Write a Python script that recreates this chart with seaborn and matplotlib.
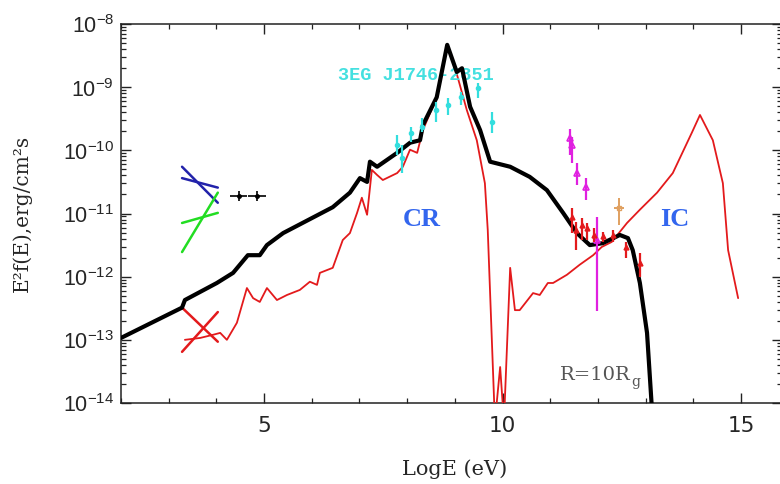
import numpy as np
import pandas as pd
import matplotlib
matplotlib.use("Agg")
import matplotlib.pyplot as plt
import seaborn as sns
from matplotlib.ticker import FixedLocator, LogLocator, NullFormatter, MultipleLocator

# ---------------- data (log10 of E^2 f(E)) ----------------
black_x = [2.00, 3.28, 3.34, 4.01, 4.35, 4.66, 4.91, 5.06, 5.40, 6.44, 6.80, 7.01, 7.16, 7.22,
           7.37, 7.79, 8.06, 8.27, 8.33, 8.62, 8.84, 9.04, 9.15, 9.32, 9.53, 9.74, 10.16,
           10.57, 10.93, 11.27, 11.56, 11.83, 12.10, 12.46, 12.63, 12.73, 12.88, 13.03, 13.15]
black_logf = [-12.97, -12.49, -12.37, -12.10, -11.94, -11.66, -11.66, -11.50, -11.31, -10.90,
              -10.67, -10.44, -10.50, -10.18, -10.26, -10.04, -9.88, -9.84, -9.60, -9.16,
              -8.33, -8.76, -8.70, -9.31, -9.68, -10.18, -10.26, -10.42, -10.63, -10.99,
              -11.31, -11.50, -11.47, -11.34, -11.39, -11.58, -12.10, -12.89, -14.30]

red_x = [3.34, 3.66, 3.93, 4.08, 4.22, 4.43, 4.64, 4.77, 4.91, 5.06, 5.27, 5.48, 5.75, 5.96,
         6.11, 6.17, 6.44, 6.65, 6.80, 6.95, 7.05, 7.16, 7.26, 7.37, 7.49, 7.79, 7.91, 8.06,
         8.21, 8.33, 8.62, 8.83, 9.00, 9.25, 9.46, 9.63, 9.69, 9.84, 9.95, 10.03, 10.16,
         10.26, 10.36, 10.64, 10.78, 10.95, 11.06, 11.35, 11.62, 11.90, 12.08, 12.29, 12.61,
         12.88, 13.24, 13.57, 13.97, 14.14, 14.41, 14.62, 14.73, 14.94]
red_logf = [-13.00, -12.97, -12.92, -12.89, -13.00, -12.73, -12.18, -12.34, -12.40, -12.18,
            -12.37, -12.29, -12.21, -12.08, -12.13, -11.94, -11.86, -11.42, -11.31, -10.99,
            -10.75, -11.02, -10.31, -10.39, -10.47, -10.36, -10.26, -9.99, -10.04, -9.68,
            -9.16, -8.35, -8.68, -9.36, -9.84, -10.52, -11.26, -14.30, -13.43, -14.30,
            -11.86, -12.53, -12.53, -12.26, -12.29, -12.10, -12.10, -11.97, -11.81, -11.66,
            -11.53, -11.45, -11.15, -10.94, -10.67, -10.36, -9.72, -9.44, -9.84, -10.52,
            -11.58, -12.34]

# bow-ties (two lines each): x ends, log f ends
bow_x = [3.28, 4.03]
bow_red_a = [-12.49, -13.03]
bow_red_b = [-13.19, -12.56]
bow_blue_a = [-10.26, -10.83]
bow_blue_b = [-10.44, -10.59]
bow_green_a = [-11.61, -10.67]
bow_green_b = [-11.15, -10.99]

# X-ray points (black)
xr_x = [4.47, 4.85]
xr_logf = [-10.72, -10.72]
xr_xerr = [0.18, 0.18]

# 3EG J1746-2851 (cyan)
egret_x = [7.79, 7.89, 8.08, 8.31, 8.60, 8.86, 9.13, 9.48, 9.78]
egret_logf = [-9.915, -10.12, -9.72, -9.63, -9.36, -9.28, -9.155, -9.01, -9.55]
egret_hi = [-9.76, -9.91, -9.63, -9.49, -9.23, -9.17, -9.08, -8.93, -9.39]
egret_lo = [-10.07, -10.36, -9.87, -9.71, -9.55, -9.44, -9.28, -9.17, -9.72]

# magenta points
mag_x = [11.41, 11.46, 11.56, 11.75, 11.98]
mag_logf = [-9.80, -9.915, -10.36, -10.58, -11.42]
mag_hi = [-9.67, -9.79, -10.20, -10.44, -11.05]
mag_lo = [-10.07, -10.20, -10.55, -10.78, -12.54]

# red TeV points
tev_x = [11.45, 11.54, 11.66, 11.77, 11.92, 12.10, 12.31, 12.59, 12.88]
tev_logf = [-11.05, -11.26, -11.18, -11.23, -11.34, -11.35, -11.34, -11.53, -11.78]
tev_hi = [-10.91, -11.13, -11.07, -11.15, -11.23, -11.29, -11.26, -11.45, -11.62]
tev_lo = [-11.31, -11.58, -11.42, -11.42, -11.45, -11.45, -11.45, -11.70, -12.00]

# orange point
or_x = [12.44]
or_logf = [-10.91]
or_hi = [-10.75]
or_lo = [-11.18]

xticks_major = [5, 10, 15]
ytick_exp = [-14, -13, -12, -11, -10, -9, -8]


def lin(v):
    return np.power(10.0, np.asarray(v, dtype=float))


def yerr(c, lo, hi):
    c, lo, hi = lin(c), lin(lo), lin(hi)
    return np.vstack([c - lo, hi - c])


# ---------------- style ----------------
sns.set_style("ticks")
plt.rcParams['font.family'] = ['DejaVu Sans']
plt.rcParams['mathtext.fontset'] = 'custom'
plt.rcParams['mathtext.rm'] = 'Liberation Sans'
plt.rcParams['mathtext.it'] = 'Liberation Sans:italic'
plt.rcParams['mathtext.bf'] = 'Liberation Sans:bold'

fig = plt.figure(figsize=(7.8, 4.84), dpi=100)
ax = fig.add_axes([121 / 780, 81 / 484, 661 / 780, 379 / 484])
ax.set_yscale('log')

# model curves
dfb = pd.DataFrame({'x': black_x, 'y': lin(black_logf)})
dfr = pd.DataFrame({'x': red_x, 'y': lin(red_logf)})
sns.lineplot(data=dfr, x='x', y='y', sort=False, estimator=None, color='#e31a1c',
             lw=1.3, ax=ax, zorder=3)
sns.lineplot(data=dfb, x='x', y='y', sort=False, estimator=None, color='black',
             lw=3.0, ax=ax, zorder=4)

# bow-ties
for ya, yb, col in [(bow_red_a, bow_red_b, '#e31a1c'), (bow_blue_a, bow_blue_b, '#2222aa'),
                    (bow_green_a, bow_green_b, '#22dd22')]:
    for yy in (ya, yb):
        sns.lineplot(x=bow_x, y=lin(yy), color=col, lw=1.8, ax=ax, sort=False,
                     estimator=None, zorder=3)

# data points
ax.errorbar(xr_x, lin(xr_logf), xerr=xr_xerr,
            yerr=yerr(xr_logf, np.array(xr_logf) - 0.08, np.array(xr_logf) + 0.08),
            fmt='o', ms=2.5, color='black', elinewidth=1.2, capsize=0, zorder=5)
ax.errorbar(egret_x, lin(egret_logf), yerr=yerr(egret_logf, egret_lo, egret_hi),
            fmt='o', ms=3, color='#33dede', elinewidth=1.6, capsize=0, zorder=5)
ax.errorbar(mag_x, lin(mag_logf), yerr=yerr(mag_logf, mag_lo, mag_hi),
            fmt='^', ms=4.5, mfc='none', mew=1.2, color='#e020e0', elinewidth=1.6,
            capsize=0, zorder=5)
ax.errorbar(tev_x, lin(tev_logf), yerr=yerr(tev_logf, tev_lo, tev_hi),
            fmt='^', ms=3.5, color='#e31a1c', elinewidth=1.6, capsize=0, zorder=6)
ax.errorbar(or_x, lin(or_logf), xerr=[0.1], yerr=yerr(or_logf, or_lo, or_hi),
            fmt='s', ms=3, mfc='none', color='#e0a060', elinewidth=1.4, capsize=0, zorder=5)

# texts
ax.text(8.18, lin(-8.81), '3EG J1746-2851', color='#44e0e0', ha='center', va='center',
        family=['Liberation Mono', 'DejaVu Sans Mono'], fontweight='bold', fontsize=13.4)
ax.text(8.31, lin(-11.10), 'CR', color='#3366ee', ha='center', va='center',
        family=['Liberation Serif', 'DejaVu Serif'], fontweight='bold', fontsize=19)
ax.text(13.61, lin(-11.10), 'IC', color='#3366ee', ha='center', va='center',
        family=['Liberation Serif', 'DejaVu Serif'], fontweight='bold', fontsize=19)
t = ax.text(11.95, lin(-13.55), 'R=10R', color='#555555', ha='center', va='center',
            family=['DejaVu Serif'], fontsize=14)
ax.annotate('g', xy=(1.0, 0.1), xycoords=t, ha='left', va='center', color='#555555',
            family=['DejaVu Serif'], fontsize=10)

# axes
ax.set_xlim(2, 15.86)
ax.set_ylim(1e-14, 1e-8)
ax.xaxis.set_major_locator(FixedLocator(xticks_major))
ax.xaxis.set_minor_locator(MultipleLocator(1))
ax.yaxis.set_major_locator(FixedLocator(lin(ytick_exp)))
ax.yaxis.set_minor_locator(LogLocator(base=10, subs=np.arange(2, 10)))
ax.yaxis.set_minor_formatter(NullFormatter())
ax.set_yticklabels([r'$10^{%d}$' % e for e in ytick_exp])
ax.tick_params(which='both', direction='in', top=True, right=True, color='#222222')
ax.tick_params(which='major', length=7, width=1.0, labelsize=15.5, pad=9)
ax.tick_params(axis='y', which='major', pad=5)
ax.tick_params(which='minor', length=3.5, width=0.9)
for s in ax.spines.values():
    s.set_linewidth(1.1)
    s.set_color('#222222')

ax.set_xlabel('LogE (eV)', family=['DejaVu Serif'], fontsize=15)
ax.set_ylabel('E²f(E),erg/cm²s', family=['DejaVu Serif'], fontsize=14.5)
ax.xaxis.set_label_coords(0.505, -0.148)
ax.yaxis.set_label_coords(-0.135, 0.5)

fig.savefig('out.png', dpi=100)
